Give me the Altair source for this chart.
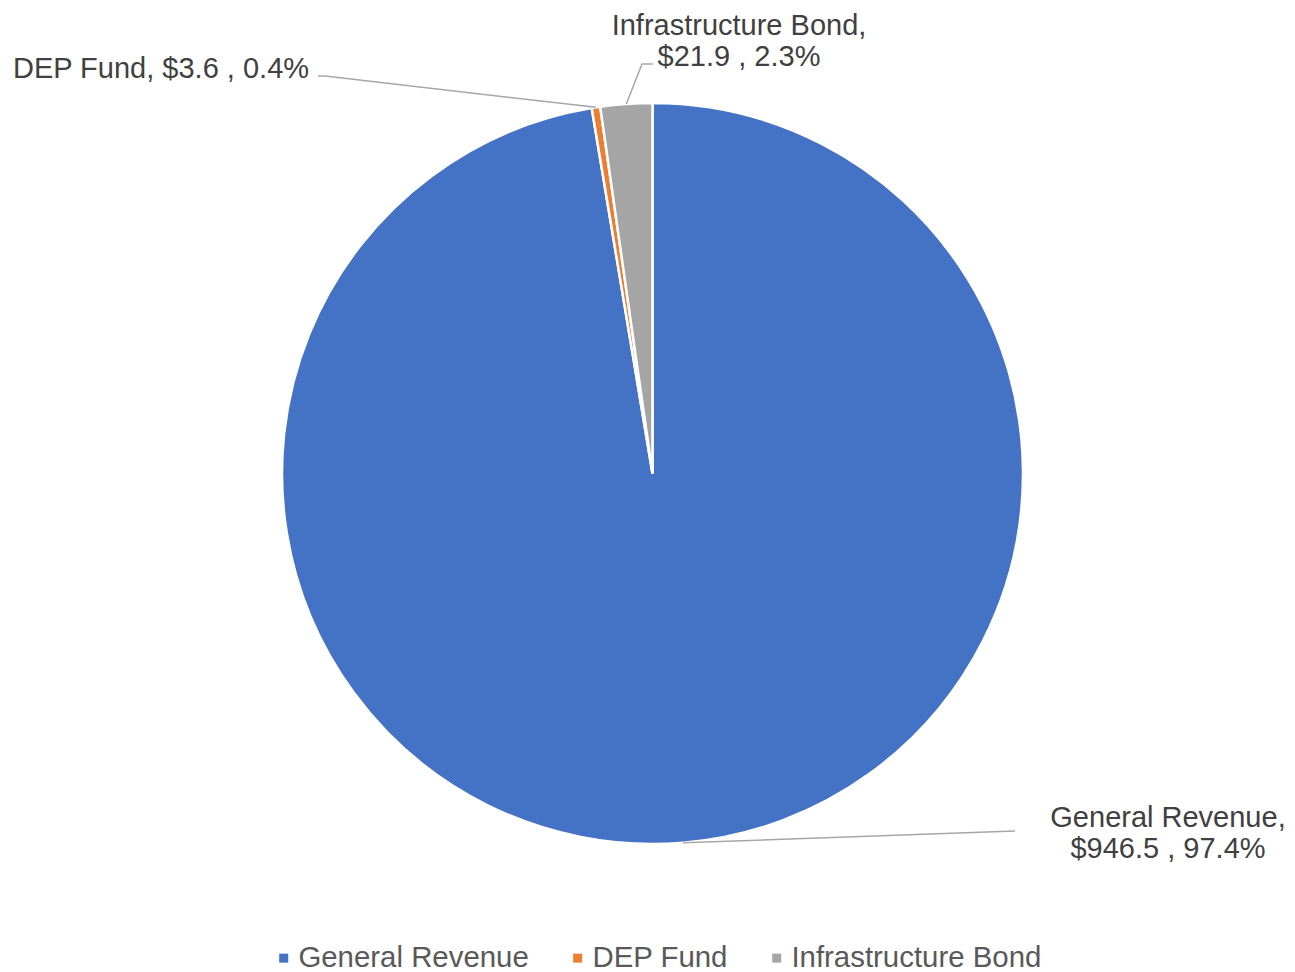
import math
import altair as alt
import pandas as pd

# ---- data ----
categories = ["General Revenue", "DEP Fund", "Infrastructure Bond"]
amounts = [946.5, 3.6, 21.9]
colors = ["#4472C4", "#ED7D31", "#A5A5A5"]

# ---- layout (pixels, chart coordinates) ----
CX, CY, R = 644.5, 465.5, 370.5
label_x = [1160, 153, 731]
label_y = [819, 70, 27]
label_lh = 31
elbow_x = [1007, 317, 634]
elbow_y = [823, 68, 56]
end_x = [1007, 310, 645]
end_y = [823, 68, 56]
FONT = "Liberation Sans"

total = sum(amounts)
pcts = [a / total * 100 for a in amounts]
texts = [
    f"{categories[0]},\n${amounts[0]:.1f} , {pcts[0]:.1f}%",
    f"{categories[1]}, ${amounts[1]:.1f} , {pcts[1]:.1f}%",
    f"{categories[2]},\n${amounts[2]:.1f} , {pcts[2]:.1f}%",
]

df = pd.DataFrame({"category": categories, "amount": amounts, "order": [0, 1, 2]})

# leader lines: from slice mid-angle on the rim to the label
rows = []
cum = 0.0
for i, a in enumerate(amounts):
    mid = (cum + a / 2) / total * 2 * math.pi
    cum += a
    ax = CX + R * math.sin(mid)
    ay = CY - R * math.cos(mid)
    rows.append({"category": categories[i], "step": 0, "px": ax, "py": ay})
    rows.append({"category": categories[i], "step": 1, "px": elbow_x[i], "py": elbow_y[i]})
    rows.append({"category": categories[i], "step": 2, "px": end_x[i], "py": end_y[i]})
lines_df = pd.DataFrame(rows)

labels_df = pd.DataFrame({"category": categories, "text": texts, "lx": label_x, "ly": label_y})

pie = alt.Chart(df).mark_arc(outerRadius=R, stroke="white", strokeWidth=2.5).encode(
    theta=alt.Theta("amount:Q", stack=True),
    color=alt.Color(
        "category:N",
        scale=alt.Scale(domain=categories, range=colors),
        sort=categories,
        legend=alt.Legend(
            orient="none",
            legendX=261,
            legendY=935,
            direction="horizontal",
            title=None,
            symbolType="square",
            symbolSize=81,
            symbolStrokeWidth=0,
            symbolOpacity=1,
            labelFontSize=29.4,
            labelFont=FONT,
            labelColor="#595959",
            labelOffset=0,
            labelLimit=500,
            columnPadding=34,
            padding=0,
        ),
    ),
    order=alt.Order("order:Q"),
    x=alt.value(CX),
    y=alt.value(CY),
)

leaders = alt.Chart(lines_df).mark_line(color="#A6A6A6", strokeWidth=1.5).encode(
    x=alt.X("px:Q", scale=None),
    y=alt.Y("py:Q", scale=None),
    detail="category:N",
    order="step:Q",
)

labels = alt.Chart(labels_df).mark_text(
    align="center", baseline="alphabetic", fontSize=29, font=FONT,
    color="#404040", lineBreak="\n", lineHeight=label_lh,
).encode(
    x=alt.X("lx:Q", scale=None),
    y=alt.Y("ly:Q", scale=None),
    text="text:N",
)

chart = alt.layer(pie, leaders, labels).properties(
    width=1279, height=964, autosize="none", padding=0
).configure(font=FONT).configure_view(stroke=None)

chart.save("out.html", embed_options={"renderer": "svg", "actions": False})
